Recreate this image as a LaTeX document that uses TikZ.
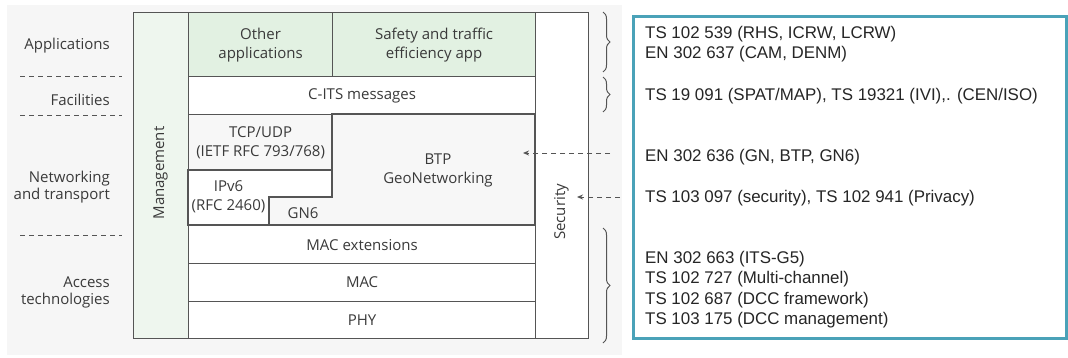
\documentclass[tikz,border=0pt]{standalone}
\usepackage{fontspec}
\setmainfont{Open Sans}
\newfontfamily\arialf{Liberation Sans}
\usetikzlibrary{decorations.pathreplacing,arrows.meta}
\definecolor{bggray}{HTML}{F6F6F6}
\definecolor{framec}{HTML}{555555}
\definecolor{txtc}{HTML}{3A3A3A}
\definecolor{appgreen}{HTML}{E2F1E2}
\definecolor{mgmtgreen}{HTML}{EEF6EE}
\definecolor{netgray}{HTML}{F7F7F7}
\definecolor{tealc}{HTML}{4AA2B8}
\tikzset{
  layer/.style={draw=framec, line width=1.2pt, anchor=north west, inner sep=0pt, align=center,
    text=txtc, font=\fontsize{15}{19}\selectfont},
  lbl/.style={text=txtc, font=\fontsize{15}{17}\selectfont, align=right, anchor=east, inner sep=0pt},
  sepline/.style={draw=framec, line width=1pt, dash pattern=on 5pt off 4pt},
  brc/.style={draw=framec, line width=1pt, decorate, decoration={brace, amplitude=7pt}},
  darrow/.style={draw=framec, line width=1pt, dash pattern=on 5pt off 4pt, -{Stealth[length=6pt,width=5pt]}},
  spec/.style={anchor=base west, inner sep=0pt, text=black!85, font=\arialf\fontsize{16.9}{20}\selectfont},
  txt/.style={text=txtc, font=\fontsize{15}{19}\selectfont, align=center, inner sep=0pt}
}
\begin{document}
\begin{tikzpicture}[x=1pt,y=-1pt]
\useasboundingbox (0,0) rectangle (1068,357);
\fill[white] (0,0) rectangle (1068,357);
\fill[bggray] (7,5) rectangle (622,355);

% left labels
\node[lbl] (lapp) at (110,46) {Applications};
\node[lbl] (lfac) at (110,100) {Facilities};
\node[lbl] (lnet) at (110,187) {Networking\\and transport};
\node[lbl] (lacc) at (110,292) {Access\\technologies};
\coordinate (d1a) at (20,76); \coordinate (d1b) at (122,76);
\coordinate (d2a) at (20,115); \coordinate (d2b) at (122,115);
\coordinate (d3a) at (20,235); \coordinate (d3b) at (122,235);
\draw[sepline] (d1a) -- (d1b);
\draw[sepline] (d2a) -- (d2b);
\draw[sepline] (d3a) -- (d3b);

% stack
\node[layer, fill=mgmtgreen, minimum width=55, minimum height=326] (mgmt) at (133,12) {};
\node[txt, rotate=90] (mgmtt) at (160.5,173) {Management};
\node[layer, fill=white, minimum width=53, minimum height=326] (sec) at (535,12) {};
\node[txt, rotate=90] (sect) at (561.5,212) {Security};
\node[layer, fill=appgreen, minimum width=144, minimum height=64] (oth) at (188,12) {Other\\applications};
\node[layer, fill=appgreen, minimum width=203, minimum height=64] (saf) at (332,12) {Safety and traffic\\efficiency app};
\node[layer, fill=white, minimum width=347, minimum height=38] (cits) at (188,76) {C-ITS messages};
\node[layer, fill=netgray, minimum width=144, minimum height=56] (tcp) at (188,114) {TCP/UDP\\(IETF RFC 793/768)};
\draw[framec, line width=1.2pt, fill=netgray] (332,114) -- (535,114) -- (535,225) -- (269,225) -- (269,197) -- (332,197) -- cycle;
\draw[framec, line width=1.2pt, fill=white] (188,170) -- (332,170) -- (332,197) -- (269,197) -- (269,225) -- (188,225) -- cycle;
\node[txt] (btp) at (438,170) {BTP\\GeoNetworking};
\node[txt] (ipv6) at (228.5,197) {IPv6\\(RFC 2460)};
\node[txt] (gn6) at (303,213) {GN6};
\node[layer, fill=white, minimum width=347, minimum height=38] (macx) at (188,225) {MAC extensions};
\node[layer, fill=white, minimum width=347, minimum height=38] (mac) at (188,263) {MAC};
\node[layer, fill=white, minimum width=347, minimum height=37] (phy) at (188,301) {PHY};

% braces
\coordinate (b1a) at (603,12); \coordinate (b1b) at (603,72);
\coordinate (b2a) at (603,77); \coordinate (b2b) at (603,112);
\coordinate (b3a) at (603,228); \coordinate (b3b) at (603,343);
\draw[brc] (b1a) -- (b1b);
\draw[brc] (b2a) -- (b2b);
\draw[brc] (b3a) -- (b3b);

% dashed arrows
\coordinate (a1s) at (610,153); \coordinate (a1e) at (523,153);
\coordinate (a2s) at (620,197); \coordinate (a2e) at (577,197);
\draw[darrow] (a1s) -- (a1e);
\draw[darrow] (a2s) -- (a2e);

% spec box
\node[draw=tealc, line width=3pt, fill=white, anchor=north west, minimum width=433, minimum height=322, inner sep=0pt] (specbox) at (632,15) {};
\node[spec] (s1) at (645,38) {TS 102 539 (RHS, ICRW, LCRW)};
\node[spec] (s2) at (645,58) {EN 302 637 (CAM, DENM)};
\node[spec] (s3) at (645,100) {TS 19 091 (SPAT/MAP), TS 19321 (IVI),. (CEN/ISO)};
\node[spec] (s4) at (645,161) {EN 302 636 (GN, BTP, GN6)};
\node[spec] (s5) at (645,202) {TS 103 097 (security), TS 102 941 (Privacy)};
\node[spec] (s6) at (645,263) {EN 302 663 (ITS-G5)};
\node[spec] (s7) at (645,283) {TS 102 727 (Multi-channel)};
\node[spec] (s8) at (645,304) {TS 102 687 (DCC framework)};
\node[spec] (s9) at (645,324) {TS 103 175 (DCC management)};
\end{tikzpicture}
\end{document}
